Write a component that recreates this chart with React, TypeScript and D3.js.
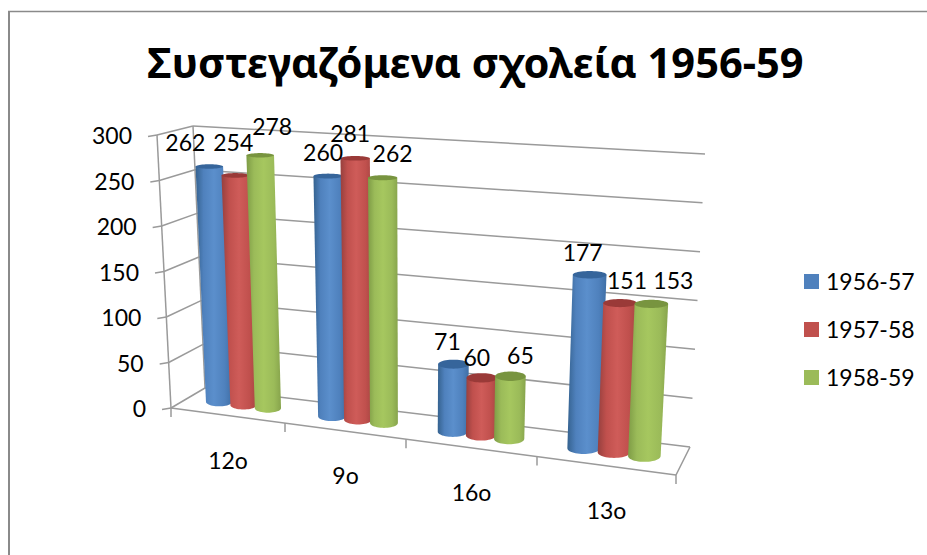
import React from "react";
import * as d3 from "d3";

const categories = ["12ο", "9ο", "16ο", "13ο"];
const seriesNames = ["1956-57", "1957-58", "1958-59"];
const values1956 = [262, 260, 71, 177];
const values1957 = [254, 281, 60, 151];
const values1958 = [278, 262, 65, 153];
const yTicks = [0, 50, 100, 150, 200, 250, 300];

const seriesValues = [values1956, values1957, values1958];
const bodyColors = [
  ["#35628f", "#4f81bd", "#5b8fcc", "#3f6fa6"],
  ["#96403e", "#c0504d", "#cf5c59", "#a84643"],
  ["#7e9c46", "#9bbb59", "#a6c75f", "#87a44c"],
];
const capColors = ["#36659b", "#9a3a38", "#78943f"];
const legendColors = ["#4f81bd", "#c0504d", "#9bbb59"];

// label placement relative to each bar's top [series][category]
const labelDx = [[-24, -5, -6, -7], [-2, -5, -5, 7], [12, 10, 10, 22]];
const labelDy = [[-24, -23, -22, -22], [-32, -24, -20, -22], [-28, -24, -20, -23]];

const W = 927, H = 555;
const FONT = "Lato, Carlito, 'Open Sans', sans-serif";
const LABEL_SIZE = 23;

// Perspective axis frame
const uDomain = [0, 1, 2, 3, 4];
const uFront = d3.scaleLinear().domain(uDomain).range([0, 114 / 505, 235 / 505, 366 / 505, 1]);
const uBack = d3.scaleLinear().domain(uDomain).range([0, 108 / 485, 223 / 485, 348 / 485, 1]);
const v01 = d3.scaleLinear().domain([0, 300]).range([0, 1]);

type P = [number, number];
const lerp = (a: P, b: P, t: number): P => [a[0] + (b[0] - a[0]) * t, a[1] + (b[1] - a[1]) * t];
const FL0: P = [171, 408], FR0: P = [676, 475], BL0: P = [205, 388], BR0: P = [690, 447];
const FL1: P = [157, 135], FR1: P = [693, 166], BL1: P = [193, 126], BR1: P = [705, 154];

function project(u: number, v: number, d: number): P {
  const tf = uFront(u), tb = uBack(u), t = v01(v);
  const front = lerp(lerp(FL0, FR0, tf), lerp(FL1, FR1, tf), t);
  const back = lerp(lerp(BL0, BR0, tb), lerp(BL1, BR1, tb), t);
  return lerp(front, back, d);
}

const SERIES_OFFSET = 0.22, RADIUS_U = 0.118, RADIUS_D = 0.21, MID = 0.5;

function ringPoint(u: number, v: number, ang: number): P {
  const c = project(u, v, MID);
  const side = project(u + RADIUS_U * Math.cos(ang), v, MID);
  const deep = project(u, v, MID + RADIUS_D * Math.sin(ang));
  return [side[0], c[1] + (deep[1] - c[1])];
}

const lineGen = d3.line<P>();
const angles = d3.range(0, 49).map((i) => (i / 48) * Math.PI * 2);

function Cylinder({ u, value, s }: { u: number; value: number; s: number }) {
  const cap = ringPoint;
  // depth grows upward on screen, so the lower half of each ring is sin < 0
  const lower = angles.filter((a) => a >= Math.PI - 1e-6);
  const body: P[] = [
    cap(u, value, Math.PI),
    ...lower.map((a) => cap(u, 0, a)),
    cap(u, value, 0),
  ];
  const top = angles.map((a) => cap(u, value, a));
  return (
    <g>
      <path d={lineGen(body)! + "Z"} fill={`url(#grad${s})`} />
      <path d={lineGen(top)! + "Z"} fill={capColors[s]} />
    </g>
  );
}

export default function App() {
  const gridColor = "#9a9a9a";
  const line = (a: P, b: P, key: string) => (
    <line key={key} x1={a[0]} y1={a[1]} x2={b[0]} y2={b[1]} stroke={gridColor} strokeWidth={1.5} />
  );
  return (
    <svg width={W} height={H} style={{ position: "absolute", left: 0, top: 0, background: "#fff" }} fontFamily={FONT}>
      <defs>
        {bodyColors.map((c, i) => (
          <linearGradient key={i} id={`grad${i}`} x1="0" x2="1" y1="0" y2="0">
            <stop offset="0" stopColor={c[0]} />
            <stop offset="0.22" stopColor={c[1]} />
            <stop offset="0.5" stopColor={c[2]} />
            <stop offset="0.8" stopColor={c[1]} />
            <stop offset="1" stopColor={c[3]} />
          </linearGradient>
        ))}
      </defs>
      <line x1={8} y1={11.5} x2={W} y2={11.5} stroke="#8a8a8a" strokeWidth={1.3} />
      <line x1={9} y1={11} x2={9} y2={H} stroke="#8a8a8a" strokeWidth={2} />
      <text x={475.5} y={78} textAnchor="middle" fontSize={41.6} fontWeight={700} fontFamily="'Noto Sans', sans-serif" fill="#000">
        Συστεγαζόμενα σχολεία 1956-59
      </text>

      {/* walls and grid */}
      {yTicks.map((t) => (
        <g key={t}>
          {line(project(0, t, 0), project(0, t, 1), `l${t}`)}
          {line(project(0, t, 1), project(4, t, 1), `b${t}`)}
          {(() => {
            const p = project(0, t, 0);
            return line(p, [p[0] - 9, p[1] + 1.5], `t${t}`);
          })()}
          <text x={project(0, t, 0)[0] - 25} y={project(0, t, 0)[1] + 1} dy="0.35em" textAnchor="end" fontSize={LABEL_SIZE} fill="#000">
            {t}
          </text>
        </g>
      ))}
      {line(project(0, 0, 0), project(0, 300, 0), "e1")}
      {line(project(0, 0, 1), project(0, 300, 1), "e2")}
      {line(project(0, 0, 0), project(4, 0, 0), "f1")}
      {line(project(4, 0, 0), project(4, 0, 1), "f2")}
      {uDomain.map((u) => {
        const p = project(u, 0, 0);
        return line(p, [p[0], p[1] + 9], `ct${u}`);
      })}

      {/* cylinders */}
      {categories.map((_, c) =>
        seriesNames.map((_, s) => (
          <Cylinder key={`${c}-${s}`} u={c + 0.5 + (s - 1) * SERIES_OFFSET} value={seriesValues[s][c]} s={s} />
        ))
      )}

      {/* data labels */}
      {categories.map((_, c) =>
        seriesNames.map((_, s) => {
          const p = project(c + 0.5 + (s - 1) * SERIES_OFFSET, seriesValues[s][c], MID);
          return (
            <text key={`${c}-${s}`} x={p[0] + labelDx[s][c]} y={p[1] + labelDy[s][c]} dy="0.35em" textAnchor="middle" fontSize={LABEL_SIZE} fill="#000">
              {seriesValues[s][c]}
            </text>
          );
        })
      )}

      {/* category labels */}
      {categories.map((name, c) => {
        const p = project(c + 0.5, 0, 0);
        return (
          <text key={name} x={p[0]} y={p[1] + 45} dy="0.35em" textAnchor="middle" fontSize={LABEL_SIZE} fill="#000">
            {name}
          </text>
        );
      })}

      {/* legend */}
      {seriesNames.map((name, i) => (
        <g key={name} transform={`translate(804,${274 + i * 48})`}>
          <rect width={15} height={15} fill={legendColors[i]} />
          <text x={22} y={7.5} dy="0.35em" fontSize={LABEL_SIZE} fill="#000">
            {name}
          </text>
        </g>
      ))}
    </svg>
  );
}
